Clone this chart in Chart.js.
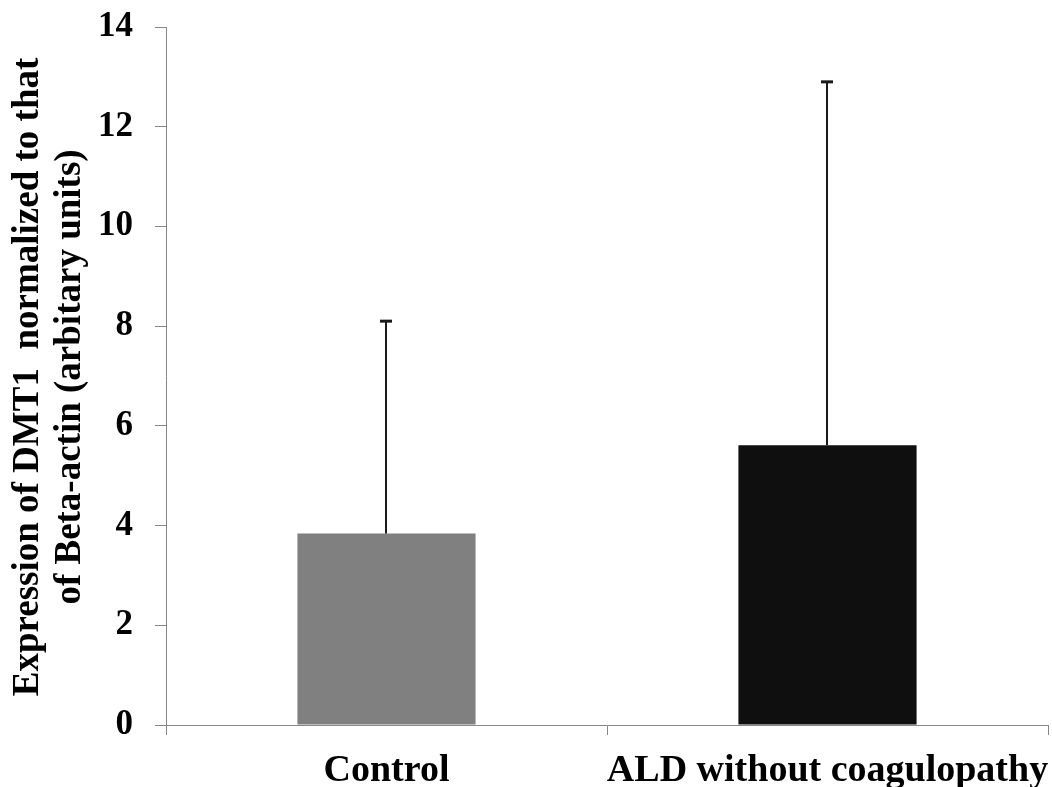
<!DOCTYPE html>
<html><head><meta charset="utf-8">
<script src="https://cdn.jsdelivr.net/npm/chart.js@4"></script>
<style>html,body{margin:0;padding:0;background:#fff}</style>
</head><body>
<div style="width:1052px;height:787px"><canvas id="c" width="1052" height="787"></canvas></div>
<script>
const categories = ['Control', 'ALD without coagulopathy'];
const means = [3.84, 5.61];
const errUpper = [4.26, 7.29];
const barColors = ['#808080', '#0f0f0f'];
const yTicks = [0, 2, 4, 6, 8, 10, 12, 14];
const yTitleLines = ['Expression of DMT1  normalized to that', 'of Beta-actin (arbitary units)'];

const FONT = '"Liberation Serif", "Times New Roman", serif';
const AXIS_COLOR = '#878787';

const errorBars = {
  id: 'errorBars',
  afterDatasetsDraw(chart) {
    const ctx = chart.ctx;
    const meta = chart.getDatasetMeta(0);
    const ys = chart.scales.y;
    ctx.save();
    ctx.strokeStyle = '#1a1a1a';
    meta.data.forEach((el, i) => {
      const x = Math.round(el.x) - 1;
      const top = ys.getPixelForValue(means[i] + errUpper[i]);
      const base = el.y;
      ctx.lineWidth = 2;
      ctx.beginPath();
      ctx.moveTo(x, base);
      ctx.lineTo(x, top);
      ctx.stroke();
      ctx.lineWidth = 3;
      ctx.beginPath();
      ctx.moveTo(x - 6, top);
      ctx.lineTo(x + 6, top);
      ctx.stroke();
    });
    ctx.restore();
  }
};

const yTitle = {
  id: 'yTitle',
  afterDraw(chart) {
    const ctx = chart.ctx;
    const a = chart.chartArea;
    const cy = (a.top + a.bottom) / 2 + 1;
    const baselines = [38, 80];
    ctx.save();
    ctx.font = 'bold 37px ' + FONT;
    ctx.fillStyle = '#000';
    ctx.textAlign = 'center';
    ctx.textBaseline = 'alphabetic';
    yTitleLines.forEach((t, i) => {
      ctx.save();
      ctx.translate(baselines[i], cy);
      ctx.rotate(-Math.PI / 2);
      ctx.fillText(t, 0, 0);
      ctx.restore();
    });
    ctx.restore();
  }
};

new Chart(document.getElementById('c'), {
  type: 'bar',
  data: {
    labels: categories,
    datasets: [{
      data: means,
      backgroundColor: barColors,
      borderWidth: 0,
      categoryPercentage: 1.0,
      barPercentage: 0.404
    }]
  },
  options: {
    responsive: false,
    animation: false,
    devicePixelRatio: 1,
    layout: { padding: { top: 27, right: 4, bottom: 0, left: 0 } },
    plugins: { legend: { display: false }, tooltip: { enabled: false }, title: { display: false } },
    scales: {
      x: {
        grid: { display: true, drawOnChartArea: false, drawTicks: true, tickLength: 10, color: AXIS_COLOR, offset: true },
        border: { display: true, color: AXIS_COLOR, width: 1 },
        ticks: { color: '#000', font: { family: FONT, size: 38, weight: 'bold' }, padding: 13, maxRotation: 0, autoSkip: false },
        afterFit(scale) { scale.height = 62; scale.paddingLeft = 0; scale.paddingRight = 0; }
      },
      y: {
        min: 0, max: 14,
        afterBuildTicks(scale) { scale.ticks = yTicks.map(v => ({ value: v })); },
        grid: { display: true, drawOnChartArea: false, drawTicks: true, tickLength: 11, color: AXIS_COLOR },
        border: { display: true, color: AXIS_COLOR, width: 1 },
        ticks: { color: '#000', font: { family: FONT, size: 35, weight: 'bold' }, padding: 22 },
        afterFit(scale) { scale.width = 166; scale.paddingTop = 0; scale.paddingBottom = 0; }
      }
    }
  },
  plugins: [errorBars, yTitle]
});
</script>
</body></html>
